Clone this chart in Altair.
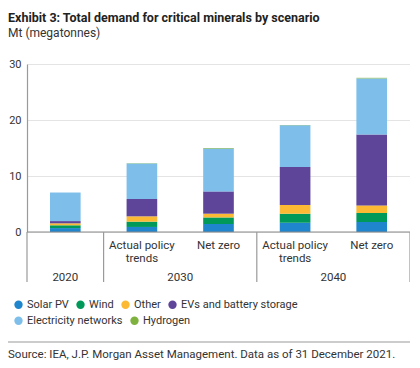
import altair as alt
import pandas as pd

cats = ["2020", "2030 APT", "2030 NZ", "2040 APT", "2040 NZ"]
scenario_labels = ["", "Actual policy\ntrends", "Net zero", "Actual policy\ntrends", "Net zero"]
series = ["Solar PV", "Wind", "Other", "EVs and battery storage", "Electricity networks", "Hydrogen"]
colors = ["#1f85cc", "#00995a", "#fbb934", "#5e4599", "#7dbfea", "#7fb13f"]

solar = [0.7, 0.9, 1.43, 1.66, 1.79]
wind = [0.5, 0.95, 1.17, 1.6, 1.6]
other = [0.35, 0.95, 0.67, 1.55, 1.36]
ev = [0.4, 3.1, 3.98, 6.8, 12.68]
elec = [5.1, 6.35, 7.65, 7.45, 10.0]
hydrogen = [0.0, 0.05, 0.1, 0.05, 0.1]

y_ticks = [0, 5, 10, 15, 20, 25, 30]

FONT = "Roboto"
W, H = 383, 168
TXT = "#333333"

rows = []
for si, (name, vals) in enumerate(zip(series, [solar, wind, other, ev, elec, hydrogen])):
    for c, v in zip(cats, vals):
        rows.append({"cat": c, "series": name, "value": v, "order": si})
df = pd.DataFrame(rows)

xscale = alt.Scale(domain=cats, paddingInner=0, paddingOuter=0)
yscale = alt.Scale(domain=[0, 30], nice=False)

stacked = alt.Chart(df).transform_stack(
    stack="value", groupby=["cat"], as_=["y0", "y1"],
    sort=[alt.SortField("order", order="ascending")],
)

legend_common = dict(title=None, orient="none", direction="horizontal", columnPadding=6,
                     padding=0, symbolType="circle", symbolSize=70, symbolStrokeWidth=0,
                     labelOffset=3, labelFontSize=11, labelColor=TXT, labelFont=FONT)

bars_a = stacked.transform_filter(alt.datum.order < 4).mark_bar(
    width=alt.RelativeBandSize(0.4)).encode(
    x=alt.X("cat:N", scale=xscale, axis=None, sort=cats),
    y=alt.Y("y0:Q", scale=yscale,
            axis=alt.Axis(values=y_ticks, title=None, ticks=False, labelPadding=6,
                          labelFontSize=11, labelColor=TXT, labelFont=FONT,
                          gridColor="#e4e4e4", domainColor="#9a9a9a", domainWidth=1.2)),
    y2="y1:Q",
    color=alt.Color("series:N", scale=alt.Scale(domain=series[:4], range=colors[:4]),
                    legend=alt.Legend(legendX=-14, legendY=235, **legend_common)),
)

bars_b = stacked.transform_filter(alt.datum.order >= 4).mark_bar(
    width=alt.RelativeBandSize(0.4)).encode(
    x=alt.X("cat:N", scale=xscale, axis=None, sort=cats),
    y=alt.Y("y0:Q", scale=yscale),
    y2="y1:Q",
    fill=alt.Fill("series:N", scale=alt.Scale(domain=series[4:], range=colors[4:]),
                  legend=alt.Legend(legendX=-14, legendY=251, **legend_common)),
)

base_df = pd.DataFrame({"cat": cats, "scen": scenario_labels})

xaxis_line = alt.Chart(pd.DataFrame({"v": [0]})).mark_rule(color="#8a8a8a", strokeWidth=1.2).encode(
    y=alt.Y("v:Q", scale=yscale),
    x=alt.value(0), x2=alt.value(W),
)

sep_left = alt.Chart(pd.DataFrame({"cat": ["2020", "2030 APT", "2040 APT"]})).mark_rule(
    color="#9a9a9a", strokeWidth=1.2).encode(
    x=alt.X("cat:N", scale=xscale, sort=cats, bandPosition=0),
    y=alt.value(H), y2=alt.value(H + 50),
)
sep_right = alt.Chart(pd.DataFrame({"cat": ["2040 NZ"]})).mark_rule(
    color="#9a9a9a", strokeWidth=1.2).encode(
    x=alt.X("cat:N", scale=xscale, sort=cats, bandPosition=1),
    y=alt.value(H), y2=alt.value(H + 50),
)

scen_text = alt.Chart(base_df).mark_text(
    font=FONT, fontSize=11.5, color=TXT, lineBreak="\n", baseline="top",
    lineHeight=12.5).encode(
    x=alt.X("cat:N", scale=xscale, sort=cats),
    y=alt.value(H + 8),
    text="scen:N",
)

year_a = alt.Chart(pd.DataFrame({"cat": ["2020"], "year": ["2020"]})).mark_text(
    font=FONT, fontSize=11.5, color=TXT, baseline="middle").encode(
    x=alt.X("cat:N", scale=xscale, sort=cats, bandPosition=0.5),
    y=alt.value(H + 46), text="year:N",
)
year_b = alt.Chart(pd.DataFrame({"cat": ["2030 NZ", "2040 NZ"], "year": ["2030", "2040"]})).mark_text(
    font=FONT, fontSize=11.5, color=TXT, baseline="middle").encode(
    x=alt.X("cat:N", scale=xscale, sort=cats, bandPosition=0),
    y=alt.value(H + 46), text="year:N",
)

footer_rule = alt.Chart(pd.DataFrame({"v": [0]})).mark_rule(color="#9a9a9a", strokeWidth=1.2).encode(
    x=alt.value(-19), x2=alt.value(W), y=alt.value(H + 110),
)
source = alt.Chart(pd.DataFrame({"t": ["Source: IEA, J.P. Morgan Asset Management. Data as of 31 December 2021."]})).mark_text(
    font=FONT, fontSize=11.5, color=TXT, align="left", baseline="alphabetic").encode(
    x=alt.value(-19), y=alt.value(H + 126), text="t:N",
)

chart = alt.layer(
    bars_a, bars_b, xaxis_line, sep_left, sep_right, scen_text, year_a, year_b, footer_rule, source
).resolve_legend(color="independent", fill="independent").properties(
    width=W, height=H,
    autosize=alt.AutoSizeParams(type="none"),
    padding={"left": 19, "top": 56, "right": 0, "bottom": 128},
    title=alt.TitleParams(
        "Exhibit 3: Total demand for critical minerals by scenario",
        subtitle="Mt (megatonnes)",
        anchor="start", frame="group", dx=-19, offset=19,
        font=FONT, fontSize=12.5, fontWeight="bold", color="#222222",
        subtitleFont=FONT, subtitleFontSize=12, subtitleColor=TXT, subtitlePadding=4,
    ),
).configure_view(stroke=None)

chart.save("out.html", embed_options={"renderer": "svg", "actions": False})
